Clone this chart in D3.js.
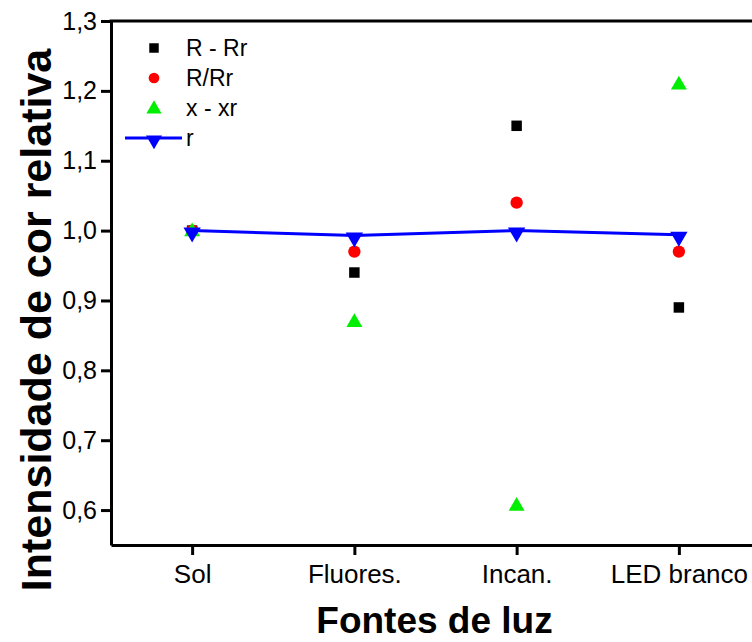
<!DOCTYPE html>
<html>
<head>
<meta charset="utf-8">
<script src="https://cdn.jsdelivr.net/npm/d3@7/dist/d3.min.js"></script>
<style>
  html, body { margin: 0; padding: 0; background: #fff; }
  svg { display: block; font-family: "Liberation Sans", Arial, sans-serif; }
</style>
</head>
<body>
<svg id="chart" width="752" height="642"></svg>
<script>
// Light sources on the x axis
const categories = ["Sol", "Fluores.", "Incan.", "LED branco"];

// Relative colour intensity for each method
const rMinusRr = [1.00, 0.94, 1.15, 0.89];
const rOverRr  = [1.00, 0.97, 1.04, 0.97];
const xMinusXr = [1.00, 0.87, 0.607, 1.21];
const rSeries  = [1.00, 0.993, 1.00, 0.994];

const yTicks = [0.6, 0.7, 0.8, 0.9, 1.0, 1.1, 1.2, 1.3];

const seriesNames = ["R - Rr", "R/Rr", "x - xr", "r"];

const svg = d3.select("#chart");
const W = 752;

const x = d3.scaleLinear().domain([-0.5, 3.5]).range([111, 760]);
const y = d3.scaleLinear().domain([0.55, 1.3]).range([545, 21]);

const fmt = v => d3.format(".1f")(v).replace(".", ",");

// Left axis
const gy = svg.append("g")
  .attr("transform", `translate(${x(-0.5)},0)`)
  .call(d3.axisLeft(y).tickValues(yTicks).tickFormat(fmt).tickSize(10).tickSizeOuter(0).tickPadding(4));
gy.select(".domain").attr("stroke", "#000").attr("stroke-width", 3);
gy.selectAll(".tick line").attr("stroke", "#000").attr("stroke-width", 3);
gy.selectAll(".tick text").attr("font-size", 25).attr("fill", "#000")
  .attr("font-family", "Liberation Sans, Arial, sans-serif");

// Bottom axis
const gx = svg.append("g")
  .attr("transform", `translate(0,${y(0.55)})`)
  .call(d3.axisBottom(x).tickValues(d3.range(categories.length)).tickFormat(i => categories[i])
        .tickSize(10).tickSizeOuter(0).tickPadding(10));
gx.select(".domain").attr("stroke", "#000").attr("stroke-width", 3);
gx.selectAll(".tick line").attr("stroke", "#000").attr("stroke-width", 3);
gx.selectAll(".tick text").attr("font-size", 26).attr("fill", "#000")
  .attr("font-family", "Liberation Sans, Arial, sans-serif");

// Top frame line
svg.append("line")
  .attr("x1", x(-0.5) - 1.5).attr("x2", W)
  .attr("y1", y(1.3)).attr("y2", y(1.3))
  .attr("stroke", "#000").attr("stroke-width", 3);

// Axis titles
svg.append("text")
  .attr("x", (x(-0.5) + x(3.5)) / 2 - 1).attr("y", 633)
  .attr("text-anchor", "middle")
  .attr("font-size", 37).attr("font-weight", "bold")
  .text("Fontes de luz");

svg.append("text")
  .attr("transform", `translate(51,320) rotate(-90)`)
  .attr("text-anchor", "middle")
  .attr("font-size", 43).attr("font-weight", "bold")
  .text("Intensidade de cor relativa");

// Marker shapes
const sq = d3.symbol().type(d3.symbolSquare).size(110);
const circ = d3.symbol().type(d3.symbolCircle).size(120);
const triUp = d3.symbol().type(d3.symbolTriangle).size(110);
const triDown = d3.symbol().type(d3.symbolTriangle).size(130);

const plot = svg.append("g");

plot.selectAll(".sq").data(rMinusRr).join("path")
  .attr("d", sq)
  .attr("transform", (d, i) => `translate(${x(i)},${y(d)})`)
  .attr("fill", "#000");

plot.selectAll(".circ").data(rOverRr).join("path")
  .attr("d", circ)
  .attr("transform", (d, i) => `translate(${x(i)},${y(d)})`)
  .attr("fill", "#ff0000");

plot.selectAll(".tri").data(xMinusXr).join("path")
  .attr("d", triUp)
  .attr("transform", (d, i) => `translate(${x(i)},${y(d) + 1})`)
  .attr("fill", "#00ee00");

plot.append("path")
  .datum(rSeries)
  .attr("d", d3.line().x((d, i) => x(i)).y(d => y(d)))
  .attr("fill", "none").attr("stroke", "#0000ff").attr("stroke-width", 3);

plot.selectAll(".tridown").data(rSeries).join("path")
  .attr("d", triDown)
  .attr("transform", (d, i) => `translate(${x(i)},${y(d) + 2}) rotate(180)`)
  .attr("fill", "#0000ff");

// Legend
const legend = svg.append("g");
const legY = [48, 78, 108, 138];
const legMarkX = 154;
const legTextX = 186;

legend.append("path").attr("d", d3.symbol().type(d3.symbolSquare).size(90))
  .attr("transform", `translate(${legMarkX},${legY[0]})`).attr("fill", "#000");
legend.append("path").attr("d", d3.symbol().type(d3.symbolCircle).size(90))
  .attr("transform", `translate(${legMarkX},${legY[1]})`).attr("fill", "#ff0000");
legend.append("path").attr("d", d3.symbol().type(d3.symbolTriangle).size(100))
  .attr("transform", `translate(${legMarkX},${legY[2] + 1})`).attr("fill", "#00ee00");
legend.append("line")
  .attr("x1", 125).attr("x2", 182).attr("y1", legY[3]).attr("y2", legY[3])
  .attr("stroke", "#0000ff").attr("stroke-width", 3);
legend.append("path").attr("d", d3.symbol().type(d3.symbolTriangle).size(110))
  .attr("transform", `translate(${legMarkX},${legY[3] + 2}) rotate(180)`).attr("fill", "#0000ff");

legend.selectAll(".lt").data(seriesNames).join("text")
  .attr("x", legTextX)
  .attr("y", (d, i) => legY[i] + 8)
  .attr("font-size", 23)
  .attr("fill", "#000")
  .text(d => d);
</script>
</body>
</html>
